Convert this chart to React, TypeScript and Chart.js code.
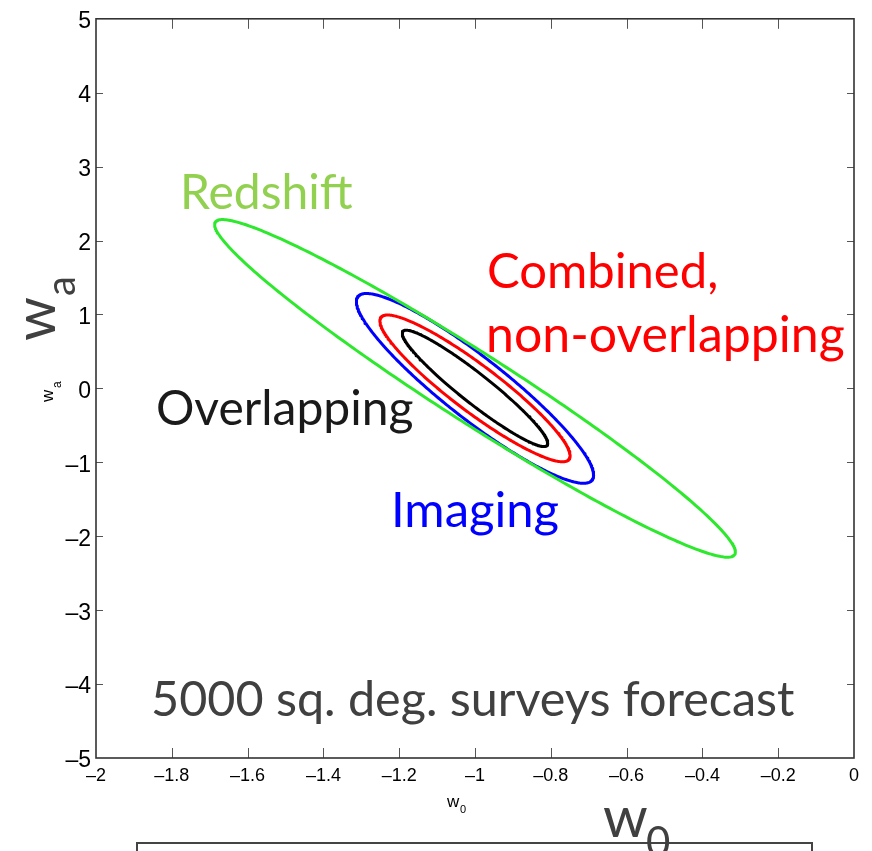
import React, { useEffect, useRef } from 'react';
import { Chart, registerables } from 'chart.js';

Chart.register(...registerables);

// ---- Data ----
const contourNames = ['Redshift', 'Imaging', 'Combined, non-overlapping', 'Overlapping'];
const contourColors = ['#2ee82e', '#0000ff', '#ff0000', '#000000'];
const centerW0 = [-1.0, -1.0, -1.0, -1.0];
const centerWa = [0.0, 0.0, 0.0, 0.0];
const sigmaW0 = [0.687, 0.313, 0.251, 0.192];
const sigmaWa = [2.284, 1.284, 0.993, 0.787];
const correlation = [-0.97, -0.915, -0.92, -0.947];

const xMin = -2;
const xMax = 0;
const xStep = 0.2;
const yMin = -5;
const yMax = 5;
const yStep = 1;

function fmt(v: number): string {
  const r = Math.round(v * 10) / 10;
  if (r === 0) return '0';
  return (r < 0 ? '\u2013' : '') + String(Math.abs(r));
}

function contour(i: number) {
  const phi = Math.acos(correlation[i]);
  const pts: { x: number; y: number }[] = [];
  for (let k = 0; k < 360; k++) {
    const t = (k * Math.PI) / 180;
    pts.push({
      x: centerW0[i] + sigmaW0[i] * Math.cos(t),
      y: centerWa[i] + sigmaWa[i] * Math.cos(t + phi),
    });
  }
  pts.push({ ...pts[0] });
  return pts;
}

const CAL = 'Lato, "Open Sans", sans-serif';
const HELV = '"Liberation Sans", Arial, sans-serif';

const framePlugin = {
  id: 'frame',
  afterDraw(chart: any) {
    const { ctx, chartArea: a, scales } = chart;
    const xs = scales.x;
    const ys = scales.y;
    ctx.save();
    // ticks
    ctx.strokeStyle = '#555';
    ctx.lineWidth = 1;
    ctx.beginPath();
    for (let v = xMin + xStep; v < xMax - 1e-9; v += xStep) {
      const px = Math.round(xs.getPixelForValue(v)) + 0.5;
      ctx.moveTo(px, a.bottom);
      ctx.lineTo(px, a.bottom - 10);
      ctx.moveTo(px, a.top);
      ctx.lineTo(px, a.top + 10);
    }
    for (let v = yMin + yStep; v < yMax - 1e-9; v += yStep) {
      const py = Math.round(ys.getPixelForValue(v)) + 0.5;
      ctx.moveTo(a.left, py);
      ctx.lineTo(a.left + 7, py);
      ctx.moveTo(a.right, py);
      ctx.lineTo(a.right - 7, py);
    }
    ctx.stroke();
    // box
    ctx.strokeStyle = '#333';
    ctx.lineWidth = 1.6;
    ctx.strokeRect(a.left, a.top, a.right - a.left, a.bottom - a.top);

    // annotations
    ctx.textAlign = 'left';
    ctx.textBaseline = 'alphabetic';
    ctx.font = `48px ${CAL}`;
    ctx.fillStyle = '#92d050';
    ctx.fillText('Redshift', 180, 209);
    ctx.font = `49px ${CAL}`;
    ctx.fillStyle = '#ff0000';
    ctx.fillText('Combined,', 487, 288);
    ctx.font = `50px ${CAL}`;
    ctx.fillText('non-overlapping', 486, 352);
    ctx.font = `48px ${CAL}`;
    ctx.fillStyle = '#1a1a1a';
    ctx.fillText('Overlapping', 156, 425);
    ctx.font = `49px ${CAL}`;
    ctx.fillStyle = '#0000ff';
    ctx.fillText('Imaging', 391, 527);
    ctx.font = `48.5px ${CAL}`;
    ctx.fillStyle = '#404040';
    ctx.fillText('5000 sq. deg. surveys forecast', 151, 716);

    // small axis titles (plot's own)
    ctx.fillStyle = '#000';
    ctx.font = `17px ${HELV}`;
    ctx.fillText('w', 447, 807);
    ctx.font = `11px ${HELV}`;
    ctx.fillText('0', 460, 813);
    ctx.save();
    ctx.translate(53, 402);
    ctx.rotate(-Math.PI / 2);
    ctx.font = `17px ${HELV}`;
    ctx.fillText('w', 0, 0);
    ctx.font = `12px ${HELV}`;
    ctx.fillText('a', 14, 8);
    ctx.restore();

    // large slide titles
    ctx.fillStyle = '#404040';
    ctx.save();
    ctx.translate(55, 341);
    ctx.rotate(-Math.PI / 2);
    ctx.font = `56px ${CAL}`;
    ctx.fillText('w', 0, 0);
    ctx.font = `40px ${CAL}`;
    ctx.fillText('a', 45, 20);
    ctx.restore();

    // box line at bottom
    ctx.strokeStyle = '#444';
    ctx.lineWidth = 2;
    ctx.beginPath();
    ctx.moveTo(137, 860);
    ctx.lineTo(137, 843);
    ctx.lineTo(812, 843);
    ctx.lineTo(812, 860);
    ctx.stroke();

    ctx.fillStyle = '#404040';
    ctx.font = `57px ${CAL}`;
    ctx.fillText('w', 603, 837);
    ctx.font = `42px ${CAL}`;
    ctx.fillText('0', 646, 857);
    ctx.restore();
  },
};

export default function App() {
  const ref = useRef<HTMLCanvasElement | null>(null);
  useEffect(() => {
    if (!ref.current) return;
    const datasets = contourNames.map((name, i) => ({
      label: name,
      data: contour(i),
      borderColor: contourColors[i],
      backgroundColor: contourColors[i],
      borderWidth: 3,
      borderJoinStyle: 'round' as const,
      borderCapStyle: 'round' as const,
      pointRadius: 0,
      showLine: true,
      fill: false,
      tension: 0,
    }));
    const chart = new Chart(ref.current, {
      type: 'scatter',
      data: { datasets },
      options: {
        animation: false,
        responsive: false,
        maintainAspectRatio: false,
        events: [],
        layout: { padding: { top: 18, right: 18, left: 0, bottom: 0 } },
        plugins: { legend: { display: false }, tooltip: { enabled: false } },
        scales: {
          x: {
            type: 'linear',
            min: xMin,
            max: xMax,
            grid: { display: false, drawTicks: false },
            border: { display: false },
            ticks: {
              stepSize: xStep,
              autoSkip: false,
              maxRotation: 0,
              padding: 7,
              color: '#000',
              font: { family: HELV, size: 18 },
              callback: (v: any) => fmt(Number(v)),
            },
            afterFit: (s: any) => {
              s.height = 93;
            },
          },
          y: {
            type: 'linear',
            min: yMin,
            max: yMax,
            grid: { display: false, drawTicks: false },
            border: { display: false },
            ticks: {
              stepSize: yStep,
              autoSkip: false,
              padding: 5,
              labelOffset: 3,
              color: '#000',
              font: { family: '"Liberation Sans Narrow", "Arial Narrow", "Liberation Sans", sans-serif', size: 23 },
              callback: (v: any) => fmt(Number(v)),
            },
            afterFit: (s: any) => {
              s.width = 96;
            },
          },
        },
      },
      plugins: [framePlugin],
    });
    return () => chart.destroy();
  }, []);
  return (
    <div style={{ position: 'absolute', left: 0, top: 0, width: 872, height: 851, overflow: 'hidden', background: '#fff' }}>
      <canvas ref={ref} width={872} height={851} style={{ display: 'block' }} />
    </div>
  );
}
